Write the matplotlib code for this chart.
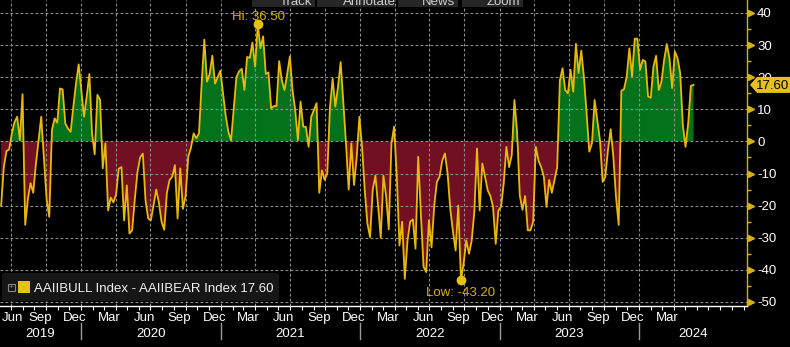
import matplotlib
matplotlib.use('Agg')
import matplotlib.pyplot as plt
import matplotlib.dates as mdates
from matplotlib.patches import Rectangle, Polygon, FancyBboxPatch
from matplotlib.transforms import blended_transform_factory, offset_copy, IdentityTransform
import numpy as np
import pandas as pd

plt.rcParams['font.family'] = ['Liberation Sans', 'DejaVu Sans']
plt.rcParams['axes.unicode_minus'] = False

# weekly AAII bull-bear spread (bullish % minus bearish %)
start_date = '2019-06-06'
spread = [
    -20, -8, -3, -2.5, 2.5, 6, 7.7, 0.4, 14.7, -26,
    -18, -13, -16, -7, 0.5, 7.7, -5, -18, -23.5, 3.5,
    7.2, 5.8, 16.5, 16.2, 5.6, 4, 3, 10.8, 18, 24,
    16, 7.7, 14, 21, 2.5, -4, 14.5, 13, -8.4, -0.6,
    -21.5, -17.5, -19, -16.5, -8.5, -8, -24.6, -13.7, -28.7, -27.7,
    -18, -9.5, -5, -3.8, -18.3, -24, -24.6, -20, -15, -19,
    -25, -27.5, -16, -12, -11, -7.4, -24, -8.4, -21, -17,
    -4.8, -2, 2.5, 1, 2.5, 18, 31.7, 18.6, 21, 26.7,
    18, 20, 22, 15, 8, 3, 0.3, 10, 20, 21.8,
    22.6, 16, 26.3, 26, 30.8, 23.3, 36.5, 29, 32.7, 21,
    21.5, 10.3, 11, 11, 25, 19, 16, 21, 26.5, 16,
    9.8, 0.4, 12.4, 4.6, 4.5, -1.7, 7.7, 9.8, 11.9, -16,
    -9, -12, -10, 10.8, 19.5, 10.8, 17, 24.7, 12, -0.6,
    -15, -0.6, -13.6, -5, 7.7, -1.7, -15, -25.6, -29.8, -15,
    -10.7, -20, -30, -10.7, -17, -27.4, -0.6, 4.6, -11, -32.4,
    -25, -42.8, -31, -25, -24.3, -33.4, -4.8, -22.5, -39, -40.7,
    -24.6, -33, -20, -12.6, -11, -6, -3.75, -10, -21, -28,
    -34, -20, -43.2, -38, -30.8, -35, -31, -22, -2.2, -21.5,
    -6.9, -11, -15.2, -17, -20.4, -31.9, -21.5, -20.4, -13, -1.7,
    -8, -4.3, 12.9, 3, -16.8, -21.3, -17, -27.7, -27.7, -25,
    -1.7, -6, -8, -11, -20.4, -12, -16, -12, -8, 19,
    22.8, 16, 15, 22.3, 15.5, 30.4, 21.3, 28.3, 20, 8.8,
    -3.2, -0.6, 12.9, 6.7, 0.4, -12.6, -11, -2.7, 3.8, -4.8,
    -17.3, -26, 15.8, 16.3, 20.2, 29, 20.2, 32, 32, 22.3,
    25.4, 24.9, 14, 13.6, 23.3, 26.7, 16, 18.6, 25.4, 30.3,
    25.9, 16.6, 28, 26, 21.3, 5.1, -1.7, 5.6, 17.3, 17.6,
]
series_name = 'AAIIBULL Index - AAIIBEAR Index'
yticks = [-50, -40, -30, -20, -10, 0, 10, 20, 30, 40]
month_names = {3: 'Mar', 6: 'Jun', 9: 'Sep', 12: 'Dec'}
toolbar = ['Track', 'Annotate', 'News', 'Zoom']

x_start = pd.Timestamp('2019-06-03')
x_end = pd.Timestamp('2024-10-10')

BG = 'black'
LINE = '#e8b90c'
GREEN = '#04721b'
RED = '#711022'
GRID = '#8e8e8e'
AXIS_Y = '#e0b000'
LABEL = '#d9b100'

W, H = 790, 347


def fx(px):
    return px / W


def fy(py):
    return 1 - py / H


dates = pd.date_range(start_date, periods=len(spread), freq='7D')
x = mdates.date2num(dates)
y = np.array(spread, dtype=float)

fig = plt.figure(figsize=(W / 100, H / 100), dpi=100, facecolor=BG)
ax = fig.add_axes([0, fy(306), fx(747), 306 / H])
ax.set_facecolor(BG)
ax.set_xlim(x_start, x_end)
ax.set_ylim(-51.26, 44.04)

# filled areas above and below zero, then the spread line
ax.fill_between(x, y, 0, where=y >= 0, interpolate=True, color=GREEN, lw=0, zorder=1)
ax.fill_between(x, y, 0, where=y <= 0, interpolate=True, color=RED, lw=0, zorder=1)
ax.plot(x, y, color=LINE, lw=1.3, zorder=3, solid_joinstyle='round')

# dashed grid
for v in yticks:
    ax.axhline(v, color=GRID, lw=0.8, ls=(0, (2.5, 2)), zorder=2)
for d in pd.date_range('2019-07-01', dates[-1], freq='QS'):
    ax.axvline(d, color=GRID, lw=0.8, ls=(0, (2.5, 2)), zorder=2)

# spines
for s in ['left', 'top']:
    ax.spines[s].set_visible(False)
ax.spines['bottom'].set_color('white')
ax.spines['bottom'].set_linewidth(1)
ax.spines['right'].set_color(AXIS_Y)
ax.spines['right'].set_linewidth(1)

# x axis: monthly ticks, labels drawn by hand
ax.xaxis.set_major_locator(mdates.MonthLocator())
ax.tick_params(axis='x', which='major', length=3, color='white', labelbottom=False)

# y axis on the right with triangle markers
ax.yaxis.tick_right()
ax.set_yticks(yticks)
ax.set_yticklabels([str(v) for v in yticks])
ax.set_yticks([v + 5 for v in yticks[:-1]], minor=True)
ax.tick_params(axis='y', which='major', length=0, pad=7.2, labelcolor='white', labelsize=9.5)
ax.tick_params(axis='y', which='minor', length=3, width=1, color=AXIS_Y)
tri_trans = offset_copy(blended_transform_factory(ax.transAxes, ax.transData),
                        fig=fig, x=4, y=0, units='dots')
ax.plot([1] * len(yticks), yticks, marker='>', ls='none', ms=5, color=AXIS_Y,
        transform=tri_trans, clip_on=False, zorder=5)

# month and year labels under the axis
lab_trans = blended_transform_factory(ax.transData, fig.transFigure)
for d in pd.date_range('2019-06-01', dates[-1], freq='MS'):
    if d.month not in month_names:
        continue
    mid = d + pd.Timedelta(days=14)
    if (mid - x_start).days < 25:
        fig.text(fx(2), fy(321), month_names[d.month], color='white', fontsize=9.5,
                 ha='left', va='baseline')
    else:
        fig.text(mdates.date2num(mid), fy(321), month_names[d.month], color='white',
                 fontsize=9.5, ha='center', va='baseline', transform=lab_trans)

for yr in range(x_start.year, x_end.year + 1):
    a = max(pd.Timestamp(f'{yr}-01-01'), x_start)
    b = min(pd.Timestamp(f'{yr + 1}-01-01'), x_end)
    mid = mdates.date2num(a) + (mdates.date2num(b) - mdates.date2num(a)) / 2
    fig.text(mid, fy(337), str(yr), color='white', fontsize=9.5, ha='center',
             va='baseline', transform=lab_trans)
    if yr > x_start.year:
        jan = mdates.date2num(pd.Timestamp(f'{yr}-01-01'))
        fig.add_artist(plt.Line2D([jan, jan], [fy(323), fy(339)], color='#9a9a9a',
                                  lw=1, transform=lab_trans))

# high / low markers
i_hi, i_lo = int(np.argmax(y)), int(np.argmin(y))
ax.plot(x[i_hi], y[i_hi], 'o', ms=6, color='#e8c010', zorder=6, clip_on=False)
ax.plot(x[i_lo], y[i_lo], 'o', ms=6, color='#e8c010', zorder=6, clip_on=False)
ax.annotate(f'Hi: {y[i_hi]:.2f}', (x[i_hi], y[i_hi]), xytext=(1, 4.5),
            textcoords='offset pixels', ha='center', va='baseline',
            color=LABEL, fontsize=9.5, zorder=6, annotation_clip=False)
ax.annotate(f'Low: {y[i_lo]:.2f}', (x[i_lo], y[i_lo]), xytext=(0, -16),
            textcoords='offset pixels', ha='center', va='baseline',
            color=LABEL, fontsize=9.5, zorder=6, annotation_clip=False)

# last value tag on the right axis
_, yd = ax.transData.transform((x[-1], y[-1]))
tag = Polygon([(750, yd), (757, yd + 8), (W, yd + 8), (W, yd - 8), (757, yd - 8)],
              closed=True, fc='#e6c11a', ec='none', transform=IdentityTransform(), zorder=10)
fig.add_artist(tag)
fig.text(773 / W, (yd - 4.5) / H, f'{y[-1]:.2f}', color='black', fontsize=9.5,
         ha='center', va='baseline', zorder=11)

# legend box
fig.add_artist(FancyBboxPatch((fx(2), fy(301)), fx(277), 28 / H,
                              boxstyle='round,pad=0,rounding_size=0.004',
                              fc='#161616', ec='none', transform=fig.transFigure, zorder=8))
fig.add_artist(Rectangle((fx(8), fy(291)), fx(7), 7 / H, fill=False, ec='#8a8a8a',
                         lw=0.8, transform=fig.transFigure, zorder=9))
fig.text(fx(11.5), fy(287.5), '+', color='#8a8a8a', fontsize=6, ha='center',
         va='center', zorder=9)
fig.add_artist(Rectangle((fx(18), fy(293)), fx(12), 12 / H, fc='#e3c21a', ec='none',
                         transform=fig.transFigure, zorder=9))
fig.text(fx(34), fy(291.5), f'{series_name} {y[-1]:.2f}', color='#f2f2f2',
         fontsize=9.5, ha='left', va='baseline', zorder=9)

# toolbar strip along the top edge
tb_boxes = [(252, 315, 280), (317, 395, 343), (398, 458, 422), (462, 523, 487)]
for (x0, x1, tx), name in zip(tb_boxes, toolbar):
    fig.add_artist(Rectangle((fx(x0), fy(7)), fx(x1 - x0), 7 / H, fc='#262626',
                             ec='none', transform=fig.transFigure, zorder=8))
    fig.text(fx(tx), fy(5), name, color='#cfcfcf', fontsize=9.5, ha='left',
             va='baseline', zorder=9)

fig.savefig('out.png', dpi=100, facecolor=BG)
